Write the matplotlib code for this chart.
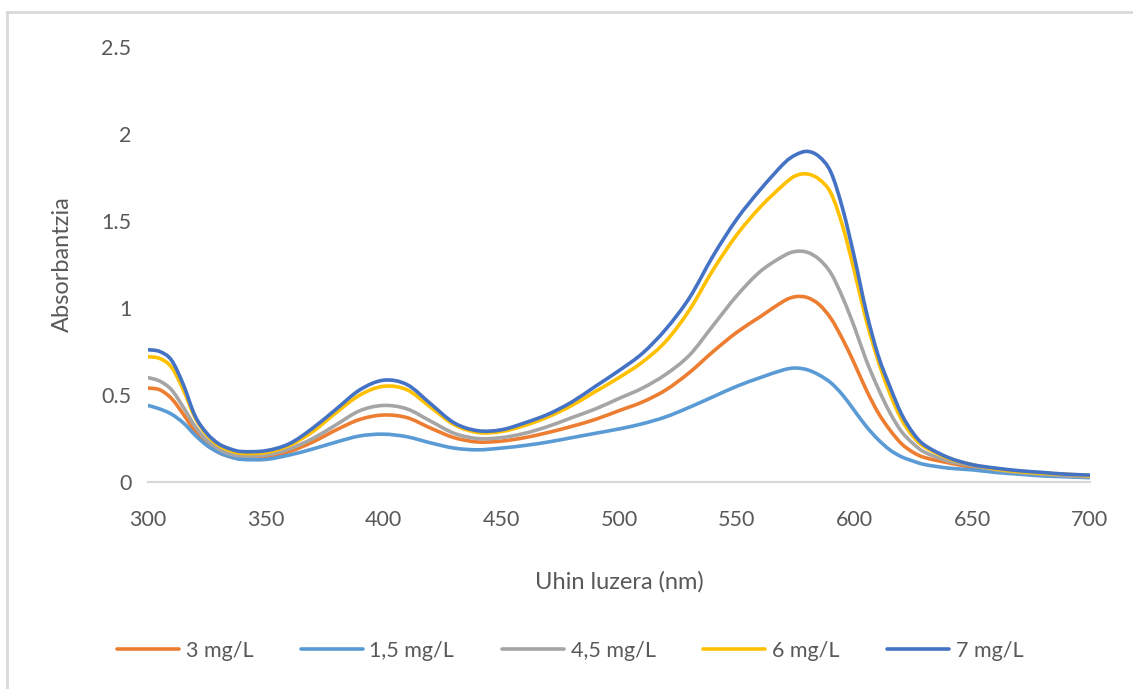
import numpy as np
import matplotlib.pyplot as plt
from matplotlib.lines import Line2D
from matplotlib.path import Path
from matplotlib.patches import PathPatch

plt.rcParams['font.family'] = ['Lato', 'DejaVu Sans']

# wavelength grid (nm)
wl = [300, 305, 310, 315, 320, 325, 330, 335, 340, 350, 360, 370, 380, 390,
      400, 410, 420, 430, 440, 450, 460, 470, 480, 490, 500, 510, 520, 530,
      540, 550, 560, 570, 575, 580, 585, 590, 595, 600, 605, 610, 615, 620,
      625, 630, 640, 650, 660, 670, 680, 690, 700]

a_3 = [0.54, 0.53, 0.48, 0.39, 0.29, 0.22, 0.17, 0.145, 0.135, 0.145, 0.175, 0.23, 0.30, 0.36,
       0.385, 0.37, 0.31, 0.255, 0.23, 0.235, 0.255, 0.285, 0.32, 0.36, 0.41, 0.46, 0.53, 0.63,
       0.75, 0.86, 0.95, 1.04, 1.065, 1.06, 1.02, 0.94, 0.82, 0.68, 0.53, 0.40, 0.30, 0.22,
       0.17, 0.14, 0.11, 0.085, 0.065, 0.05, 0.04, 0.035, 0.03]

a_1_5 = [0.44, 0.42, 0.39, 0.34, 0.27, 0.21, 0.17, 0.145, 0.13, 0.13, 0.155, 0.19, 0.23, 0.265,
         0.275, 0.26, 0.225, 0.195, 0.185, 0.195, 0.21, 0.23, 0.255, 0.28, 0.305, 0.335, 0.375, 0.43,
         0.49, 0.55, 0.60, 0.645, 0.655, 0.645, 0.615, 0.57, 0.50, 0.41, 0.32, 0.245, 0.185, 0.145,
         0.12, 0.10, 0.08, 0.07, 0.055, 0.045, 0.035, 0.03, 0.025]

a_4_5 = [0.60, 0.58, 0.53, 0.43, 0.32, 0.24, 0.19, 0.16, 0.15, 0.155, 0.19, 0.25, 0.33, 0.41,
         0.44, 0.42, 0.35, 0.28, 0.25, 0.255, 0.28, 0.32, 0.37, 0.42, 0.48, 0.54, 0.62, 0.73,
         0.90, 1.07, 1.21, 1.30, 1.325, 1.32, 1.28, 1.20, 1.06, 0.89, 0.70, 0.54, 0.40, 0.29,
         0.22, 0.17, 0.12, 0.095, 0.07, 0.055, 0.045, 0.035, 0.03]

a_6 = [0.72, 0.71, 0.66, 0.53, 0.37, 0.27, 0.21, 0.18, 0.165, 0.17, 0.21, 0.29, 0.40, 0.50,
       0.55, 0.53, 0.43, 0.33, 0.285, 0.29, 0.325, 0.375, 0.44, 0.52, 0.60, 0.69, 0.81, 0.99,
       1.22, 1.42, 1.58, 1.71, 1.76, 1.77, 1.74, 1.66, 1.47, 1.21, 0.93, 0.70, 0.51, 0.36,
       0.26, 0.20, 0.135, 0.10, 0.075, 0.06, 0.05, 0.045, 0.035]

a_7 = [0.76, 0.75, 0.70, 0.56, 0.38, 0.28, 0.22, 0.19, 0.175, 0.18, 0.22, 0.31, 0.42, 0.53,
       0.585, 0.56, 0.45, 0.34, 0.295, 0.30, 0.34, 0.39, 0.46, 0.55, 0.64, 0.74, 0.88, 1.06,
       1.30, 1.51, 1.68, 1.83, 1.88, 1.90, 1.87, 1.78, 1.57, 1.29, 0.98, 0.73, 0.55, 0.39,
       0.28, 0.21, 0.14, 0.10, 0.08, 0.065, 0.055, 0.045, 0.04]

labels = ['3 mg/L', '1,5 mg/L', '4,5 mg/L', '6 mg/L', '7 mg/L']
colors = ['#ed7d31', '#5b9bd5', '#a5a5a5', '#ffc000', '#4472c4']
series = [a_3, a_1_5, a_4_5, a_6, a_7]


def smooth_path(x, y):
    # Catmull-Rom style bezier through every point, like a spreadsheet "smoothed line"
    p = np.column_stack([x, y]).astype(float)
    verts = [p[0]]
    codes = [Path.MOVETO]
    n = len(p)
    for i in range(n - 1):
        p0 = p[i - 1] if i > 0 else p[i]
        p3 = p[i + 2] if i + 2 < n else p[i + 1]
        c1 = p[i] + (p[i + 1] - p0) / 6
        c2 = p[i + 1] - (p3 - p[i]) / 6
        verts += [c1, c2, p[i + 1]]
        codes += [Path.CURVE4] * 3
    return Path(verts, codes)


fig = plt.figure(figsize=(11.33, 6.89), dpi=100)
ax = fig.add_axes([0.1306, 0.3004, 0.8314, 0.6314])

handles = []
for y, c, lab in zip(series, colors, labels):
    ax.add_patch(PathPatch(smooth_path(wl, y), facecolor='none', edgecolor=c,
                           lw=2.6, capstyle='round', joinstyle='round'))
    handles.append(Line2D([], [], color=c, lw=2.6, solid_capstyle='round', label=lab))

ax.set_xlim(300, 700)
ax.set_ylim(0, 2.5)
ax.set_xticks(np.arange(300, 701, 50))
ax.set_yticks(np.arange(0, 2.51, 0.5))
ax.set_yticklabels(['0', '0.5', '1', '1.5', '2', '2.5'])
ax.tick_params(length=0, labelsize=15.5, labelcolor='#595959', pad=12)
ax.tick_params(axis='x', pad=20)

for s in ['top', 'right', 'left']:
    ax.spines[s].set_visible(False)
ax.spines['bottom'].set_color('#d9d9d9')
ax.spines['bottom'].set_linewidth(1.6)

ax.set_xlabel('Uhin luzera (nm)', fontsize=17, color='#595959', labelpad=30)
ax.set_ylabel('Absorbantzia', fontsize=17, color='#595959', labelpad=20)

fig.legend(handles=handles, loc='center', bbox_to_anchor=(0.503, 1 - 651 / 689), ncol=5,
           frameon=False, fontsize=15.5, handlelength=2.9, handletextpad=0.3,
           columnspacing=2.2, labelcolor='#595959')

# chart area border
fig.add_artist(Line2D([7 / 1133, 1.0], [1 - 12 / 689, 1 - 12 / 689],
                      transform=fig.transFigure, color='#d9d9d9', lw=2))
fig.add_artist(Line2D([7 / 1133, 7 / 1133], [0.0, 1 - 12 / 689],
                      transform=fig.transFigure, color='#d9d9d9', lw=2))

fig.savefig('out.png', dpi=100)
